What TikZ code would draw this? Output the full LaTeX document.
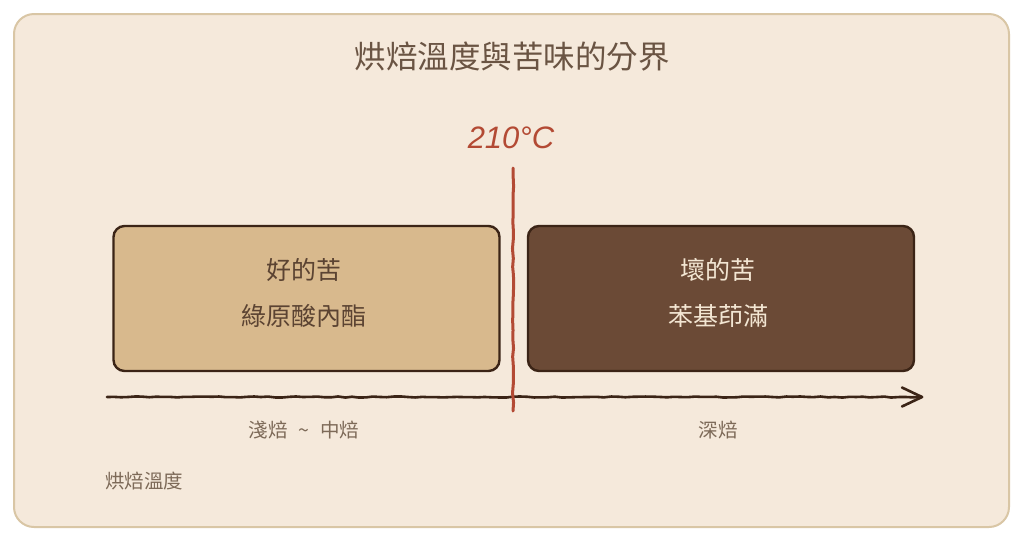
\documentclass[tikz,border=0pt]{standalone}
\usepackage{fontspec}
\setmainfont{Noto Sans CJK TC}
\newfontfamily\handfont{Liberation Sans}
\usetikzlibrary{decorations.pathmorphing}
\definecolor{bgcol}{HTML}{F5E9DB}
\definecolor{framecol}{HTML}{D9C6A5}
\definecolor{goodfill}{HTML}{D8B98D}
\definecolor{badfill}{HTML}{6B4A36}
\definecolor{inkcol}{HTML}{3B2416}
\definecolor{redcol}{HTML}{B34A34}
\definecolor{titlecol}{HTML}{6A5443}
\definecolor{darktext}{HTML}{5B4332}
\definecolor{lighttext}{HTML}{F3E6D3}
\definecolor{labelcol}{HTML}{7D6A58}
\tikzset{
  wobble/.style={decorate, decoration={random steps, segment length=7pt, amplitude=0.55pt}},
  stagebox/.style={draw=inkcol, line width=2.4pt, rounded corners=11pt, minimum width=386pt, minimum height=145pt, inner sep=0pt},
  boxtext/.style={font=\fontsize{25}{28}\selectfont, inner sep=0pt},
  smalllabel/.style={font=\fontsize{19.5}{22}\selectfont, text=labelcol, inner sep=0pt},
  axisline/.style={draw=inkcol, line width=2.6pt, line cap=round, line join=round},
}
\begin{document}
\begin{tikzpicture}[x=1pt,y=-1pt]
\pgfmathsetseed{7}
\useasboundingbox (0,0) rectangle (1024,542);
\fill[white] (0,0) rectangle (1024,542);
\draw[draw=framecol, fill=bgcol, line width=2pt, rounded corners=20pt] (14,14) rectangle (1009,527);

\node[font=\fontsize{31.5}{34}\selectfont, text=titlecol, inner sep=0pt] (title) at (512,57) {烘焙溫度與苦味的分界};

\node[stagebox, fill=goodfill] (good) at (306.5,298.5) {};
\node[stagebox, fill=badfill] (bad) at (721,298.5) {};
\node[boxtext, text=darktext] (goodA) at (304,270) {好的苦};
\node[boxtext, text=darktext] (goodB) at (304,316) {綠原酸內酯};
\node[boxtext, text=lighttext] (badA) at (718,270) {壞的苦};
\node[boxtext, text=lighttext] (badB) at (718,316) {苯基茚滿};

\coordinate (axL) at (107,397);
\coordinate (axR) at (922,397);
\draw[axisline, wobble] (axL) -- (axR);
\draw[axisline] ([xshift=-20pt,yshift=9.5pt]axR) -- (axR) -- ([xshift=-20pt,yshift=-9.5pt]axR);

\coordinate (redT) at (513,168);
\coordinate (redB) at (513,411);
\draw[draw=redcol, line width=3pt, line cap=round, decorate, decoration={random steps, segment length=9pt, amplitude=0.6pt}] (redT) -- (redB);
\node[font=\handfont\itshape\fontsize{31}{34}\selectfont, text=redcol, inner sep=0pt] (temp) at (511,138) {210°C};

\node[smalllabel] (light) at (304,430) {淺焙\hspace{11pt}\textasciitilde\hspace{11pt}中焙};
\node[smalllabel] (dark) at (718,430) {深焙};
\node[smalllabel, anchor=west] (axname) at (105,481) {烘焙溫度};
\end{tikzpicture}
\end{document}
